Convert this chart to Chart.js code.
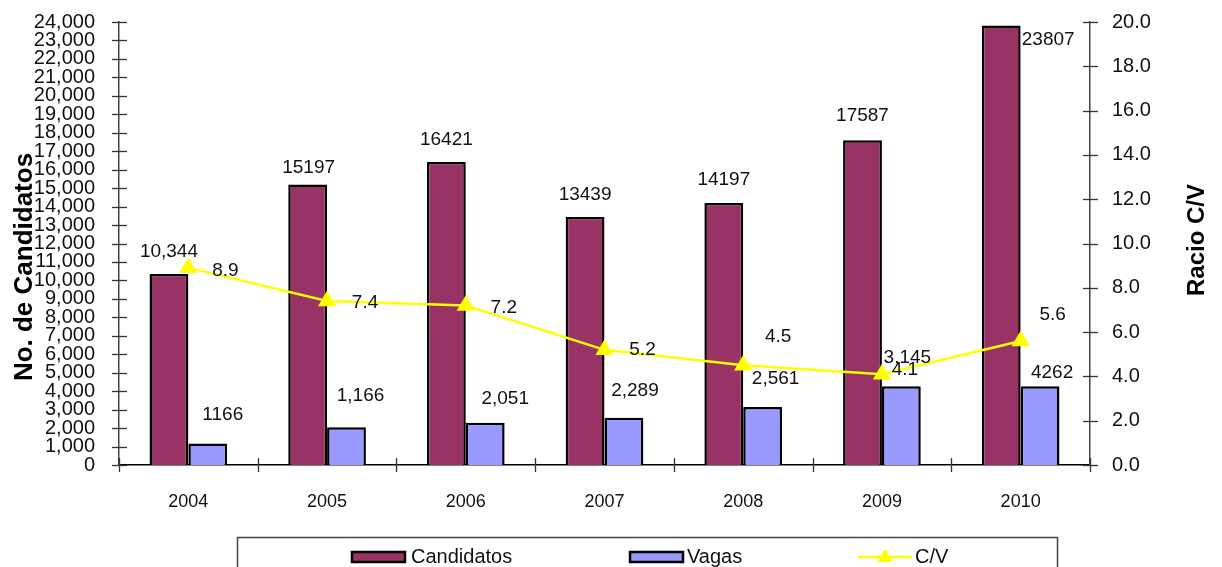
<!DOCTYPE html>
<html>
<head>
<meta charset="utf-8">
<script src="https://cdn.jsdelivr.net/npm/chart.js@4.4.1/dist/chart.umd.min.js"></script>
<style>
  html, body { margin: 0; padding: 0; background: #fff; }
  #canvas { width: 1222px; height: 567px; }
</style>
</head>
<body>
<div id="canvas"><canvas id="myChart" width="1222" height="567"></canvas></div>
<script>
const years = ['2004', '2005', '2006', '2007', '2008', '2009', '2010'];
const candidatos = [10344, 15197, 16421, 13439, 14197, 17587, 23807];
const vagas = [1166, 2051, 2289, 2561, 3145, 4262, 4262];
const racio = [8.9, 7.4, 7.2, 5.2, 4.5, 4.1, 5.6];

// label texts as printed in the source chart
const candidatosLabels = ['10,344', '15197', '16421', '13439', '14197', '17587', '23807'];
const vagasLabels = ['1166', '1,166', '2,051', '2,289', '2,561', '3,145', '4262'];
const racioLabels = ['8.9', '7.4', '7.2', '5.2', '4.5', '4.1', '5.6'];

const labelOffsets = [
    [[0, -22], [1, -17], [0, -22], [0, -22], [0, -23], [0, -25], [47, 14]],
    [[15, -29], [14, -31], [20, -24], [11, -27], [13, -28], [6, -29], [12, -14]],
    [[37, 3], [38, 2], [38, 2], [38, 0], [35, -29], [23, -4], [32, -26]]
];
const labelTexts = [candidatosLabels, vagasLabels, racioLabels];

const FONT = '"Liberation Sans", Arial, sans-serif';

const extras = {
    id: 'extras',
    afterDatasetsDraw(chart) {
        const ctx = chart.ctx;
        const area = chart.chartArea;
        ctx.save();

        // tick marks crossing the axes
        ctx.strokeStyle = '#333';
        ctx.lineWidth = 1.3;
        const yl = chart.scales.y, yr = chart.scales.y1, xs = chart.scales.x;
        yl.ticks.forEach((t, i) => {
            const py = Math.round(yl.getPixelForTick(i)) + 0.5;
            ctx.beginPath(); ctx.moveTo(area.left - 7, py); ctx.lineTo(area.left + 8, py); ctx.stroke();
        });
        yr.ticks.forEach((t, i) => {
            const py = Math.round(yr.getPixelForTick(i)) + 0.5;
            ctx.beginPath(); ctx.moveTo(area.right - 7, py); ctx.lineTo(area.right + 8, py); ctx.stroke();
        });
        for (let i = 0; i <= years.length; i++) {
            const px = Math.round(xs.getPixelForValue(i - 0.5)) + 0.5;
            ctx.beginPath(); ctx.moveTo(px, area.bottom - 7); ctx.lineTo(px, area.bottom + 7); ctx.stroke();
        }

        // data labels
        ctx.fillStyle = '#111';
        ctx.font = '19px ' + FONT;
        ctx.textAlign = 'center';
        ctx.textBaseline = 'middle';
        chart.data.datasets.forEach((ds, d) => {
            const meta = chart.getDatasetMeta(d);
            meta.data.forEach((el, i) => {
                const off = labelOffsets[d][i];
                ctx.fillText(labelTexts[d][i], el.x + off[0], el.y + off[1]);
            });
        });

        // axis titles
        ctx.font = 'bold 26px ' + FONT;
        ctx.fillStyle = '#000';
        ctx.save();
        ctx.translate(25, 267);
        ctx.rotate(-Math.PI / 2);
        ctx.fillText('No. de Candidatos', 0, 0);
        ctx.restore();
        ctx.font = 'bold 24px ' + FONT;
        ctx.save();
        ctx.translate(1197, 240);
        ctx.rotate(-Math.PI / 2);
        ctx.fillText('Racio C/V', 0, 0);
        ctx.restore();

        // legend box
        ctx.strokeStyle = '#444';
        ctx.lineWidth = 1.5;
        ctx.strokeRect(237.5, 537.5, 820, 60);
        const ly = 557;
        ctx.font = '20px ' + FONT;
        ctx.textAlign = 'left';
        const items = [[352, 411], [630, 687], [858, 915]];
        chart.data.datasets.forEach((ds, d) => {
            const [bx, tx] = items[d];
            if (ds.type === 'line') {
                ctx.strokeStyle = ds.borderColor;
                ctx.lineWidth = 2.5;
                ctx.beginPath(); ctx.moveTo(bx, ly); ctx.lineTo(bx + 54, ly); ctx.stroke();
                ctx.fillStyle = ds.borderColor;
                ctx.beginPath();
                ctx.moveTo(bx + 27, ly - 8); ctx.lineTo(bx + 35, ly + 5); ctx.lineTo(bx + 19, ly + 5);
                ctx.closePath(); ctx.fill();
            } else {
                ctx.fillStyle = ds.backgroundColor;
                ctx.fillRect(bx, ly - 5, 53, 10);
                ctx.strokeStyle = '#000';
                ctx.lineWidth = 2.5;
                ctx.strokeRect(bx, ly - 5, 53, 10);
            }
            ctx.fillStyle = '#111';
            ctx.fillText(ds.label, tx, ly);
        });
        ctx.restore();
    }
};

const data = {
    labels: years,
    datasets: [
        {
            label: 'Candidatos',
            data: candidatos,
            backgroundColor: '#993366',
            borderColor: '#000',
            borderWidth: 2.5,
            categoryPercentage: 0.56,
            barPercentage: 1.0,
            yAxisID: 'y',
            order: 2
        },
        {
            label: 'Vagas',
            data: vagas,
            backgroundColor: '#9999FF',
            borderColor: '#000',
            borderWidth: 2.5,
            categoryPercentage: 0.56,
            barPercentage: 1.0,
            yAxisID: 'y',
            order: 2
        },
        {
            type: 'line',
            label: 'C/V',
            data: racio,
            borderColor: '#FFFF00',
            backgroundColor: '#FFFF00',
            borderWidth: 2.5,
            pointStyle: 'triangle',
            pointRadius: 8,
            pointBackgroundColor: '#FFFF00',
            pointBorderColor: '#FFFF00',
            tension: 0,
            fill: false,
            yAxisID: 'y1',
            order: 1
        }
    ]
};

// keep the tick padding from pushing the plot area down
function fixWidth(w) {
    return s => {
        s.width = w;
        s.paddingTop = 8;
        s.paddingBottom = 8;
    };
}

const options = {
    responsive: false,
    animation: false,
    layout: { padding: { top: 22, bottom: 0, left: 0, right: 0 } },
    scales: {
        x: {
            offset: true,
            grid: { display: false, drawTicks: false },
            border: { color: '#000', width: 1.5 },
            ticks: { color: '#111', font: { size: 18, family: FONT }, padding: 26 },
            afterFit(s) { s.height = 102; }
        },
        y: {
            position: 'left',
            min: 0,
            max: 24000,
            grid: { display: false, drawTicks: false },
            border: { color: '#444', width: 1.5 },
            ticks: {
                stepSize: 1000,
                autoSkip: false,
                padding: 24,
                color: '#111',
                font: { size: 20, family: FONT, lineHeight: 1 },
                callback: v => v.toLocaleString('en-US')
            },
            afterFit: fixWidth(119)
        },
        y1: {
            position: 'right',
            min: 0,
            max: 20,
            grid: { display: false, drawTicks: false },
            border: { color: '#444', width: 1.5 },
            ticks: {
                stepSize: 2,
                autoSkip: false,
                padding: 22,
                color: '#111',
                font: { size: 20, family: FONT, lineHeight: 1 },
                callback: v => v.toFixed(1)
            },
            afterFit: fixWidth(132)
        }
    },
    plugins: {
        legend: { display: false },
        tooltip: { enabled: false }
    }
};

const canvas = document.getElementById('myChart');
const ctx = canvas.getContext('2d');

const myChart = new Chart(ctx, {
    type: 'bar',
    data: data,
    options: options,
    plugins: [extras]
});
</script>
</body>
</html>
